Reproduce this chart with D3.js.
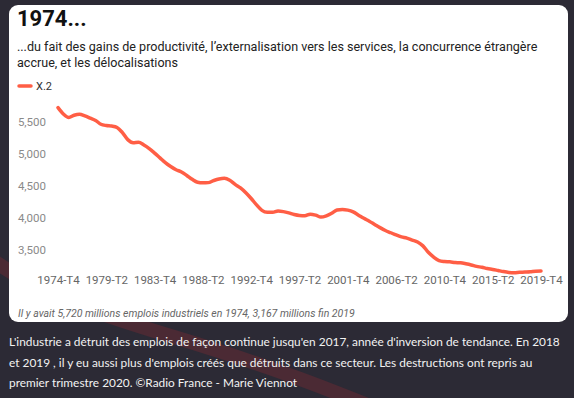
<!DOCTYPE html>
<html><head><meta charset="utf-8">
<script src="https://cdn.jsdelivr.net/npm/d3@7"></script>
<style>
html,body{margin:0;padding:0;background:#2c2a35;overflow:hidden;}
svg{display:block;}
</style></head>
<body>
<svg id="chart" width="574" height="398"></svg>
<script>
const title = "1974...";
const subtitleLines = ["...du fait des gains de productivité, l’externalisation vers les services, la concurrence étrangère", "accrue, et les délocalisations"];
const seriesName = "X.2";
const footnote = "Il y avait 5,720 millions emplois industriels en 1974, 3,167 millions fin 2019";
const captionLines = ["L'industrie a détruit des emplois de façon continue jusqu'en 2017, année d'inversion de tendance. En 2018", "et 2019 , il y eu aussi plus d'emplois créés que détruits dans ce secteur. Les destructions ont repris au", "premier trimestre 2020. ©Radio France - Marie Viennot"];

// half-year categories 1974-T4 .. 2019-T4
const categories = [];
for (let y = 1974; y <= 2019; y++) {
  if (y > 1974) categories.push(y + "-T2");
  categories.push(y + "-T4");
}
const values = [5720,5620,5565,5600,5615,5590,5555,5520,5460,5440,
  5432,5410,5330,5220,5172,5178,5136,5080,5010,4935,
  4860,4800,4750,4715,4660,4600,4555,4545,4548,4580,
  4605,4615,4585,4520,4465,4390,4300,4200,4115,4085,
  4084,4105,4095,4075,4050,4035,4032,4055,4040,4010,
  4030,4070,4120,4130,4118,4090,4040,3990,3945,3895,
  3845,3800,3765,3730,3700,3680,3650,3620,3560,3460,
  3385,3330,3315,3310,3300,3295,3280,3262,3240,3225,
  3205,3192,3175,3158,3145,3140,3146,3150,3155,3165,3167];
const yTicks = [3500,4000,4500,5000,5500];
const xTickLabels = ["1974-T4","1979-T2","1983-T4","1988-T2","1992-T4","1997-T2","2001-T4","2006-T2","2010-T4","2015-T2","2019-T4"];

const svg = d3.select("#chart");

function fitWidth(sel, target) {
  sel.each(function(d, i) {
    const t = target(d, i);
    const el = d3.select(this);
    const fs = parseFloat(el.attr("font-size"));
    const w = this.getComputedTextLength();
    if (w > 0) el.attr("font-size", (fs * t / w).toFixed(2));
  });
}

// background swoosh
svg.append("path")
  .attr("d","M-20,250 C40,300 120,320 200,345 S330,390 380,410")
  .attr("fill","none").attr("stroke","#6a2a33").attr("stroke-width",14).attr("opacity",0.5);

// card
svg.append("rect").attr("x",9).attr("y",5).attr("width",559).attr("height",317)
  .attr("rx",9).attr("fill","#ffffff");

svg.append("text").attr("x",17).attr("y",26).text(title)
  .attr("font-family","Roboto").attr("font-weight","bold").attr("font-size",22).attr("fill","#111");

svg.selectAll("text.sub").data(subtitleLines).join("text").attr("class","sub")
  .attr("x",17).attr("y",(d,i)=>51+i*15.5).text(d=>d)
  .attr("font-family","Roboto").attr("font-size",13).attr("fill","#222")
  .call(s => { const n = s.nodes()[0]; const w = n.getComputedTextLength(); const fs = (13*521/w).toFixed(2); s.attr("font-size", fs); });

// legend
svg.append("line").attr("x1",19).attr("x2",31).attr("y1",86).attr("y2",86)
  .attr("stroke","#ff5e45").attr("stroke-width",3.5).attr("stroke-linecap","round");
svg.append("text").attr("x",36).attr("y",90).text(seriesName)
  .attr("font-family","Roboto").attr("font-size",11).attr("fill","#333");

const x = d3.scalePoint().domain(categories).range([58,541]);
const y = d3.scaleLinear().domain([3500,5500]).range([249.7,121.7]);

// y axis labels
const yAxis = d3.axisLeft(y).tickValues(yTicks).tickFormat(d3.format(",")).tickSize(0).tickPadding(0);
const gy = svg.append("g").attr("transform","translate(46,0)").call(yAxis);
gy.select(".domain").remove();
gy.selectAll("text").attr("font-family","Roboto").attr("font-size",11.5).attr("fill","#8a8a8a");

// x axis labels
const xAxis = d3.axisBottom(x).tickValues(xTickLabels).tickSize(0).tickPadding(0);
const gx = svg.append("g").attr("transform","translate(0,276)").call(xAxis);
gx.select(".domain").remove();
gx.selectAll("text").attr("font-family","Roboto").attr("font-size",11.5).attr("fill","#666");

// line
const line = d3.line().x((d,i)=>x(categories[i])).y(d=>y(d)).curve(d3.curveMonotoneX);
svg.append("path").datum(values).attr("d",line)
  .attr("fill","none").attr("stroke","#ff5e45").attr("stroke-width",3.5)
  .attr("stroke-linejoin","round").attr("stroke-linecap","round");

// footnote
svg.append("text").attr("x",18).attr("y",317).text(footnote)
  .attr("font-family","Roboto").attr("font-style","italic").attr("font-size",10.5).attr("fill","#666");

// caption
svg.selectAll("text.cap").data(captionLines).join("text").attr("class","cap")
  .attr("x",9).attr("y",(d,i)=>346+i*20.5).text(d=>d)
  .attr("font-family","Lato").attr("font-size",12.6).attr("fill","#f2f2f2")
  .call(s => { const n = s.nodes()[0]; const w = n.getComputedTextLength(); const fs = (12.6*551/w).toFixed(2); s.attr("font-size", fs); });
</script>
</body></html>
